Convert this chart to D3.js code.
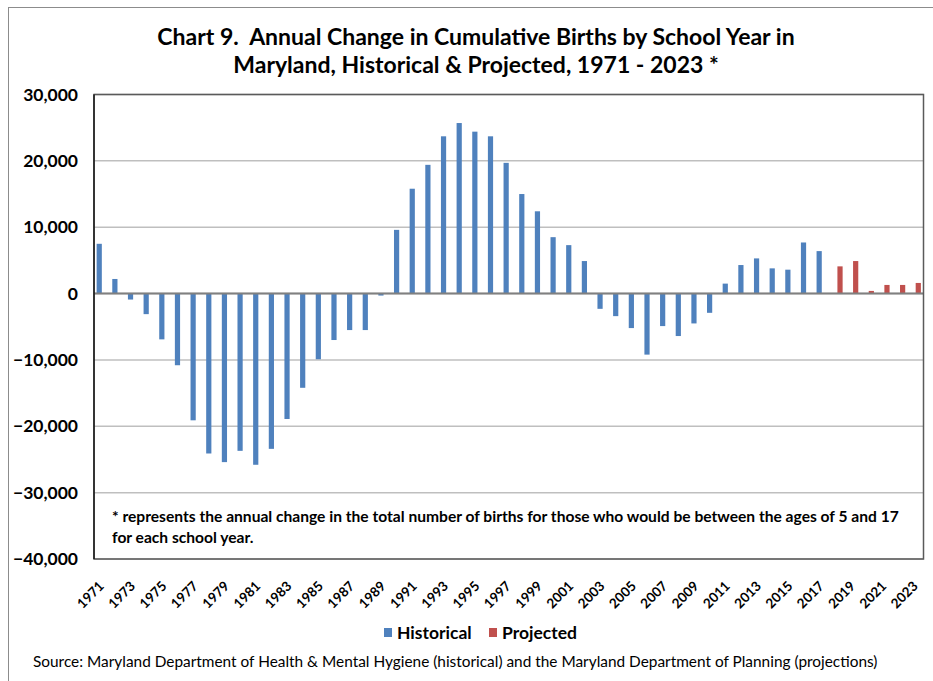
<!DOCTYPE html>
<html>
<head>
<meta charset="utf-8">
<script src="https://cdn.jsdelivr.net/npm/d3@7"></script>
<style>
  body { margin: 0; background: #fff; }
  svg { display: block; font-family: Lato, "Open Sans", sans-serif; }
  text { white-space: pre; }
</style>
</head>
<body>
<script>
// school years shown on the category axis
var years = [1971, 1972, 1973, 1974, 1975, 1976, 1977, 1978, 1979, 1980,
             1981, 1982, 1983, 1984, 1985, 1986, 1987, 1988, 1989, 1990,
             1991, 1992, 1993, 1994, 1995, 1996, 1997, 1998, 1999, 2000,
             2001, 2002, 2003, 2004, 2005, 2006, 2007, 2008, 2009, 2010,
             2011, 2012, 2013, 2014, 2015, 2016, 2017, 2018, 2019, 2020,
             2021, 2022, 2023];

// historical change 1971 - 2017
var historicalYears = years.slice(0, 47);
var historical = [7500, 2200, -900, -3100, -6900, -10800, -19100, -24100, -25400, -23700,
                  -25800, -23400, -18900, -14200, -9900, -7000, -5500, -5500, -300, 9600,
                  15800, 19400, 23700, 25700, 24400, 23700, 19700, 15000, 12400, 8500,
                  7300, 4900, -2300, -3400, -5200, -9200, -4900, -6400, -4500, -2900,
                  1500, 4300, 5300, 3800, 3600, 7700, 6400];

// projected change 2018 - 2023
var projectedYears = [2018, 2019, 2020, 2021, 2022, 2023];
var projected = [4100, 4900, 400, 1300, 1300, 1600];

var yTicks = [-40000, -30000, -20000, -10000, 0, 10000, 20000, 30000];
var xTickLabels = years.filter((y) => y % 2 == 1);

var seriesNames = ["Historical", "Projected"];
var colors = {Historical: "#4F81BD", Projected: "#C0504D"};

var W = 933, H = 681;
var plot = {left: 94, right: 923.5, top: 94.5, bottom: 559};

var svg = d3.select("body").append("svg").attr("width", W).attr("height", H);

// outer chart frame (runs off the right and bottom edges)
svg.append("rect")
    .attr("x", 8.5).attr("y", 7.5)
    .attr("width", W).attr("height", H)
    .attr("fill", "none").attr("stroke", "#8c8c8c").attr("stroke-width", 1);

var x = d3.scaleBand()
    .domain(years)
    .range([plot.left, plot.right])
    .paddingInner(0.335)
    .paddingOuter(0.1675);

var x1 = d3.scaleBand()
    .domain(seriesNames)
    .range([0, x.bandwidth()]);

var y = d3.scaleLinear()
    .domain([-40000, 30000])
    .range([plot.bottom, plot.top]);

// gridlines
svg.append("g").selectAll("line")
    .data(yTicks)
    .enter()
        .append("line")
        .attr("x1", plot.left).attr("x2", plot.right)
        .attr("y1", (d) => y(d)).attr("y2", (d) => y(d))
        .attr("stroke", "#bfbfbf").attr("stroke-width", 1.5);

// value axis labels
var yAxis = d3.axisLeft(y).tickValues(yTicks).tickSize(0).tickPadding(16)
    .tickFormat(d3.format(","));
var yg = svg.append("g").attr("transform", "translate(" + plot.left + ",0)").call(yAxis);
yg.select(".domain").remove();
yg.selectAll("text")
    .attr("font-family", "Lato, sans-serif")
    .attr("font-size", 17.5).attr("font-weight", "bold").attr("fill", "#000");

// bars
function drawSeries(name, cats, vals) {
    var rows = cats.map((c, i) => ({year: c, value: vals[i]}));
    svg.append("g").selectAll("rect")
        .data(rows)
        .enter()
            .append("rect")
            .attr("x", (d) => x(d.year) + x1(name))
            .attr("width", x1.bandwidth())
            .attr("y", (d) => y(Math.max(0, d.value)))
            .attr("height", (d) => Math.abs(y(d.value) - y(0)))
            .attr("fill", colors[name]);
}
drawSeries("Historical", historicalYears, historical);
drawSeries("Projected", projectedYears, projected);

// zero line
svg.append("line")
    .attr("x1", plot.left).attr("x2", plot.right)
    .attr("y1", y(0)).attr("y2", y(0))
    .attr("stroke", "#808080").attr("stroke-width", 2);

// footnote inside the plot
var note = svg.append("text")
    .attr("font-size", 15.6).attr("font-weight", "bold").attr("fill", "#000");
note.append("tspan").attr("x", 112).attr("y", 522)
    .text("* represents the annual change in the total number of births for those who would be between the ages of 5 and 17");
note.append("tspan").attr("x", 112).attr("y", 543)
    .text("for each school year.");

// plot frame
svg.append("rect")
    .attr("x", plot.left).attr("y", plot.top)
    .attr("width", plot.right - plot.left).attr("height", plot.bottom - plot.top)
    .attr("fill", "none").attr("stroke", "#5a5a5a").attr("stroke-width", 1.5);
svg.append("line")
    .attr("x1", plot.left).attr("x2", plot.left)
    .attr("y1", plot.top).attr("y2", plot.bottom)
    .attr("stroke", "#000").attr("stroke-width", 1.2);

// category labels, every other year, slanted
svg.append("g").selectAll("text")
    .data(xTickLabels)
    .enter()
        .append("text")
        .attr("transform", (d) => "translate(" + (x(d) + x.bandwidth() / 2 + 3) + "," + (plot.bottom + 28) + ") rotate(-45)")
        .attr("text-anchor", "end")
        .attr("font-size", 13.5).attr("font-weight", "bold").attr("fill", "#000")
        .text((d) => d);

// title
var title = svg.append("text")
    .attr("text-anchor", "middle")
    .attr("font-size", 23).attr("font-weight", "bold").attr("fill", "#000");
title.append("tspan").attr("x", 476).attr("y", 45)
    .text("Chart 9.  Annual Change in Cumulative Births by School Year in");
title.append("tspan").attr("x", 476).attr("y", 73)
    .text("Maryland, Historical & Projected, 1971 - 2023 *");

// legend
var legend = svg.append("g").selectAll("g")
    .data(seriesNames)
    .enter()
        .append("g")
        .attr("transform", (d, i) => "translate(" + (384 + i * 105) + ",628)");
legend.append("rect")
    .attr("width", 8).attr("height", 9)
    .attr("fill", (d) => colors[d]);
legend.append("text")
    .attr("x", 13).attr("y", 11)
    .attr("font-size", 17.5).attr("font-weight", "bold").attr("fill", "#000")
    .text((d) => d);

// source line
svg.append("text")
    .attr("x", 33).attr("y", 667)
    .attr("font-size", 15.4).attr("fill", "#000")
    .text("Source: Maryland Department of Health & Mental Hygiene (historical) and the Maryland Department of Planning (projections)");
</script>
</body>
</html>
